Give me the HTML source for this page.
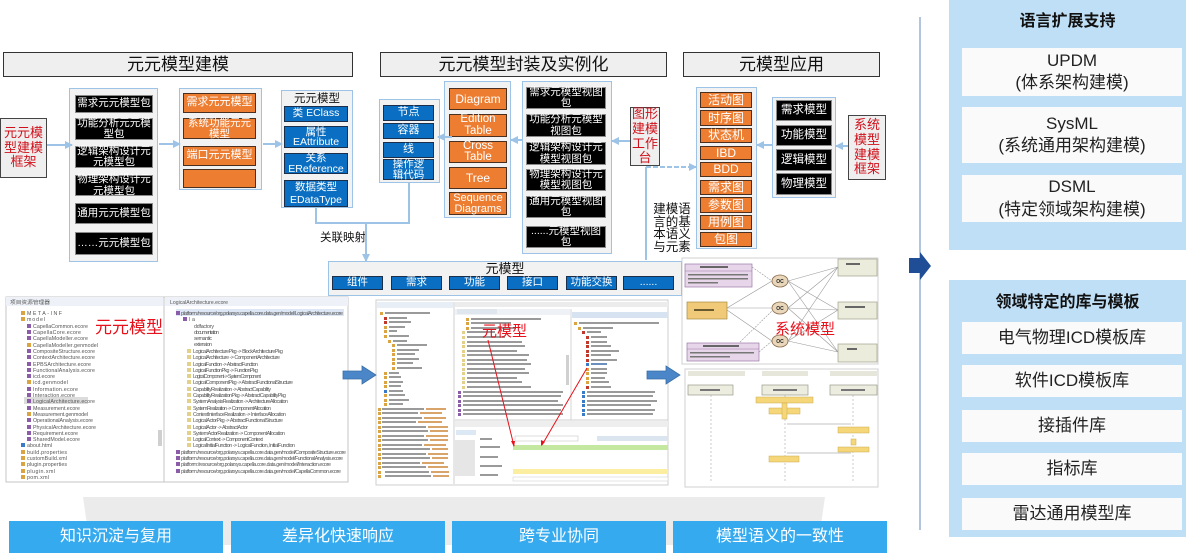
<!DOCTYPE html>
<html><head><meta charset="utf-8">
<style>
html,body{margin:0;padding:0;background:#fff;}
body{width:1189px;height:556px;position:relative;overflow:hidden;font-family:"Liberation Sans","Noto Sans CJK SC",sans-serif;}
.b{position:absolute;display:flex;align-items:center;justify-content:center;text-align:center;box-sizing:border-box;line-height:1.05;white-space:nowrap;}
.k{background:#000;color:#fff;border:1px solid #8a8a8a;font-size:10.5px;}
.o{background:#ed7d31;color:#fff;border:1.5px solid #4a3020;font-size:12px;}
.u{background:#0a6fc2;color:#fff;border:1.5px solid #1c2f4a;font-size:10.5px;}
.c{position:absolute;box-sizing:border-box;border:1.5px solid #9dc3e6;background:#f2f2f2;}
.h{background:#efefef;border:1.5px solid #333;font-size:17px;color:#111;}
.r{background:#efefef;border:1.5px solid #444;color:#d0111b;font-size:13px;line-height:1.15;}
.bt{background:#36aaee;color:#fff;font-size:16px;}
.p{position:absolute;background:#bfdff6;}
.w{background:#fafafa;color:#222;font-size:17px;line-height:1.3;}
.t{position:absolute;font-weight:bold;font-size:16px;color:#111;text-align:center;}
svg{position:absolute;left:0;top:0;}
</style></head><body>

<svg width="1189" height="556" viewBox="0 0 1189 556" style="z-index:0">
<polygon points="83,497 825,497 818,545 90,545" fill="#ebebeb"/>
<line x1="920" y1="17" x2="920" y2="530" stroke="#98b2d2" stroke-width="1.5"/>

<rect x="6" y="297" width="342" height="185" fill="#fff" stroke="#c6c6c6"/>
<rect x="6" y="297" width="157" height="9" fill="#eef2f8"/>
<rect x="165" y="297" width="183" height="9" fill="#eef2f8"/>
<line x1="164" y1="297" x2="164" y2="482" stroke="#c6c6c6"/>
<text x="10" y="304" font-size="5" fill="#555" textLength="40" lengthAdjust="spacingAndGlyphs">项目资源管理器</text>
<text x="170" y="304" font-size="5" fill="#555" textLength="58" lengthAdjust="spacingAndGlyphs">LogicalArchitecture.ecore</text>
<rect x="158" y="430" width="4" height="16" fill="#cfcfcf"/>
<rect x="24" y="397" width="64" height="7" fill="#dcdcdc"/>
<rect x="176" y="309" width="168" height="7" fill="#dce6f4"/>
<g font-size="5.3" fill="#555" font-family="Liberation Sans,sans-serif" lengthAdjust="spacingAndGlyphs">
<rect x="21" y="311" width="4" height="4" fill="#d9a441"/><text x="27" y="315" textLength="35">META-INF</text>
<rect x="21" y="317" width="4" height="4" fill="#d9a441"/><text x="27" y="321" textLength="18">model</text>
<g>
<rect x="27" y="324" width="4" height="4" fill="#8b5ca8"/><text x="33" y="328" textLength="55">CapellaCommon.ecore</text>
<rect x="27" y="330" width="4" height="4" fill="#8b5ca8"/><text x="33" y="334" textLength="48">CapellaCore.ecore</text>
<rect x="27" y="336" width="4" height="4" fill="#8b5ca8"/><text x="33" y="340" textLength="55">CapellaModeller.ecore</text>
<rect x="27" y="343" width="4" height="4" fill="#d9a441"/><text x="33" y="347" textLength="65">CapellaModeller.genmodel</text>
<rect x="27" y="349" width="4" height="4" fill="#8b5ca8"/><text x="33" y="353" textLength="62">CompositeStructure.ecore</text>
<rect x="27" y="355" width="4" height="4" fill="#8b5ca8"/><text x="33" y="359" textLength="62">ContextArchitecture.ecore</text>
<rect x="27" y="362" width="4" height="4" fill="#8b5ca8"/><text x="33" y="366" textLength="58">EPBSArchitecture.ecore</text>
<rect x="27" y="368" width="4" height="4" fill="#8b5ca8"/><text x="33" y="372" textLength="62">FunctionalAnalysis.ecore</text>
<rect x="27" y="374" width="4" height="4" fill="#8b5ca8"/><text x="33" y="378" textLength="22">icd.ecore</text>
<rect x="27" y="380" width="4" height="4" fill="#d9a441"/><text x="33" y="384" textLength="35">icd.genmodel</text>
<rect x="27" y="387" width="4" height="4" fill="#8b5ca8"/><text x="33" y="391" textLength="45">Information.ecore</text>
<rect x="27" y="393" width="4" height="4" fill="#8b5ca8"/><text x="33" y="397" textLength="42">Interaction.ecore</text>
<rect x="27" y="399" width="4" height="4" fill="#8b5ca8"/><text x="33" y="403" textLength="62">LogicalArchitecture.ecore</text>
<rect x="27" y="406" width="4" height="4" fill="#8b5ca8"/><text x="33" y="410" textLength="47">Measurement.ecore</text>
<rect x="27" y="412" width="4" height="4" fill="#d9a441"/><text x="33" y="416" textLength="55">Measurement.genmodel</text>
<rect x="27" y="418" width="4" height="4" fill="#8b5ca8"/><text x="33" y="422" textLength="60">OperationalAnalysis.ecore</text>
<rect x="27" y="425" width="4" height="4" fill="#8b5ca8"/><text x="33" y="429" textLength="63">PhysicalArchitecture.ecore</text>
<rect x="27" y="431" width="4" height="4" fill="#8b5ca8"/><text x="33" y="435" textLength="45">Requirement.ecore</text>
<rect x="27" y="437" width="4" height="4" fill="#8b5ca8"/><text x="33" y="441" textLength="47">SharedModel.ecore</text>
</g>
<rect x="21" y="443" width="4" height="4" fill="#3a7bc8"/><text x="27" y="447" textLength="25">about.html</text>
<rect x="21" y="450" width="4" height="4" fill="#d9a441"/><text x="27" y="454" textLength="40">build.properties</text>
<rect x="21" y="456" width="4" height="4" fill="#d9a441"/><text x="27" y="460" textLength="40">customBuild.xml</text>
<rect x="21" y="462" width="4" height="4" fill="#d9a441"/><text x="27" y="466" textLength="40">plugin.properties</text>
<rect x="21" y="469" width="4" height="4" fill="#d9a441"/><text x="27" y="473" textLength="28">plugin.xml</text>
<rect x="21" y="475" width="4" height="4" fill="#d9a441"/><text x="27" y="479" textLength="22">pom.xml</text>

<rect x="176" y="311" width="4" height="4" fill="#8b5ca8"/><text x="181" y="315" textLength="162">platform:/resource/org.polarsys.capella.core.data.gen/model/LogicalArchitecture.ecore</text>
<rect x="183" y="317" width="4" height="4" fill="#8b5ca8"/><text x="189" y="321" textLength="6">la</text>
<text x="194" y="328" textLength="20">ddfactory</text>
<text x="194" y="334" textLength="25">documentation</text>
<text x="194" y="340" textLength="18">semantic</text>
<text x="194" y="346" textLength="18">extension</text>
<g>
<rect x="187" y="349" width="4" height="4" fill="#e3d08a"/><text x="193" y="353" textLength="90">LogicalArchitecturePkg -&gt; BlockArchitecturePkg</text>
<rect x="187" y="355" width="4" height="4" fill="#e3d08a"/><text x="193" y="359" textLength="87">LogicalArchitecture -&gt; ComponentArchitecture</text>
<rect x="187" y="362" width="4" height="4" fill="#e3d08a"/><text x="193" y="366" textLength="65">LogicalFunction -&gt; AbstractFunction</text>
<rect x="187" y="368" width="4" height="4" fill="#e3d08a"/><text x="193" y="372" textLength="65">LogicalFunctionPkg -&gt; FunctionPkg</text>
<rect x="187" y="374" width="4" height="4" fill="#e3d08a"/><text x="193" y="378" textLength="68">LogicalComponent -&gt; SystemComponent</text>
<rect x="187" y="380" width="4" height="4" fill="#e3d08a"/><text x="193" y="384" textLength="100">LogicalComponentPkg -&gt; AbstractFunctionalStructure</text>
<rect x="187" y="387" width="4" height="4" fill="#e3d08a"/><text x="193" y="391" textLength="78">CapabilityRealization -&gt; AbstractCapability</text>
<rect x="187" y="393" width="4" height="4" fill="#e3d08a"/><text x="193" y="397" textLength="93">CapabilityRealizationPkg -&gt; AbstractCapabilityPkg</text>
<rect x="187" y="399" width="4" height="4" fill="#e3d08a"/><text x="193" y="403" textLength="95">SystemAnalysisRealization -&gt; ArchitectureAllocation</text>
<rect x="187" y="406" width="4" height="4" fill="#e3d08a"/><text x="193" y="410" textLength="78">SystemRealization -&gt; ComponentAllocation</text>
<rect x="187" y="412" width="4" height="4" fill="#e3d08a"/><text x="193" y="416" textLength="93">ContextInterfaceRealization -&gt; InterfaceAllocation</text>
<rect x="187" y="418" width="4" height="4" fill="#e3d08a"/><text x="193" y="422" textLength="90">LogicalActorPkg -&gt; AbstractFunctionalStructure</text>
<rect x="187" y="425" width="4" height="4" fill="#e3d08a"/><text x="193" y="429" textLength="55">LogicalActor -&gt; AbstractActor</text>
<rect x="187" y="431" width="4" height="4" fill="#e3d08a"/><text x="193" y="435" textLength="92">SystemActorRealization -&gt; ComponentAllocation</text>
<rect x="187" y="437" width="4" height="4" fill="#e3d08a"/><text x="193" y="441" textLength="70">LogicalContext -&gt; ComponentContext</text>
<rect x="187" y="443" width="4" height="4" fill="#e3d08a"/><text x="193" y="447" textLength="102">LogicalInitialFunction -&gt; LogicalFunction, InitialFunction</text>
</g>
<rect x="176" y="450" width="4" height="4" fill="#8b5ca8"/><text x="181" y="454" textLength="165">platform:/resource/org.polarsys.capella.core.data.gen/model/CompositeStructure.ecore</text>
<rect x="176" y="456" width="4" height="4" fill="#8b5ca8"/><text x="181" y="460" textLength="162">platform:/resource/org.polarsys.capella.core.data.gen/model/FunctionalAnalysis.ecore</text>
<rect x="176" y="462" width="4" height="4" fill="#8b5ca8"/><text x="181" y="466" textLength="150">platform:/resource/org.polarsys.capella.core.data.gen/model/Interaction.ecore</text>
<rect x="176" y="469" width="4" height="4" fill="#8b5ca8"/><text x="181" y="473" textLength="160">platform:/resource/org.polarsys.capella.core.data.gen/model/CapellaCommon.ecore</text>
</g>
<text x="95" y="333" font-size="17" fill="#e8101a" font-family="Liberation Sans,Noto Sans CJK SC,sans-serif">元元模型</text>

<rect x="376" y="300" width="292" height="185" fill="#fff" stroke="#cfcfcf"/>
<rect x="377" y="302" width="76" height="6" fill="#e8eef6"/>
<rect x="455" y="302" width="213" height="5" fill="#ececec"/>
<line x1="454" y1="302" x2="454" y2="484" stroke="#cfcfcf"/>
<rect x="455" y="309" width="115" height="6" fill="#eef1f5"/>
<rect x="572" y="312" width="96" height="6" fill="#d7e3f0"/>
<line x1="571" y1="309" x2="571" y2="420" stroke="#d5d5d5"/>
<rect x="566" y="355" width="3" height="30" fill="#d0d0d0"/>
<g fill="#9a9a9a">
<rect x="380" y="312" width="3" height="3" fill="#d9a441"/><rect x="385" y="312" width="45" height="2"/>
<rect x="384" y="317" width="3" height="3" fill="#c0392b"/><rect x="389" y="317" width="18" height="2"/>
<rect x="384" y="321" width="3" height="3" fill="#c0392b"/><rect x="389" y="321" width="22" height="2"/>
<rect x="384" y="326" width="3" height="3" fill="#d9a441"/><rect x="389" y="326" width="16" height="2"/>
<rect x="384" y="330" width="3" height="3" fill="#d9a441"/><rect x="389" y="330" width="8" height="2"/>
<rect x="384" y="335" width="3" height="3" fill="#d9a441"/><rect x="389" y="335" width="20" height="2"/>
<rect x="388" y="340" width="3" height="3" fill="#d9a441"/><rect x="393" y="340" width="14" height="2"/>
<rect x="392" y="344" width="3" height="3" fill="#d9a441"/><rect x="397" y="344" width="30" height="2"/>
<rect x="392" y="349" width="3" height="3" fill="#d9a441"/><rect x="397" y="349" width="22" height="2"/>
<rect x="392" y="353" width="3" height="3" fill="#d9a441"/><rect x="397" y="353" width="18" height="2"/>
<rect x="392" y="358" width="3" height="3" fill="#d9a441"/><rect x="397" y="358" width="22" height="2"/>
<rect x="392" y="362" width="3" height="3" fill="#d9a441"/><rect x="397" y="362" width="16" height="2"/>
<rect x="392" y="367" width="3" height="3" fill="#d9a441"/><rect x="397" y="367" width="25" height="2"/>
<rect x="384" y="372" width="3" height="3" fill="#d9a441"/><rect x="389" y="372" width="10" height="2"/>
<rect x="384" y="376" width="3" height="3" fill="#d9a441"/><rect x="389" y="376" width="12" height="2"/>
<rect x="384" y="381" width="3" height="3" fill="#d9a441"/><rect x="389" y="381" width="14" height="2"/>
<rect x="384" y="385" width="3" height="3" fill="#d9a441"/><rect x="389" y="385" width="12" height="2"/>
<rect x="384" y="390" width="3" height="3" fill="#3a7bc8"/><rect x="389" y="390" width="14" height="2"/>
<rect x="384" y="394" width="3" height="3" fill="#d9a441"/><rect x="389" y="394" width="16" height="2"/>
<rect x="384" y="399" width="3" height="3" fill="#d9a441"/><rect x="389" y="399" width="20" height="2"/>
<rect x="384" y="403" width="3" height="3" fill="#d9a441"/><rect x="389" y="403" width="14" height="2"/>
</g>
<g fill="#9a9a9a">
<rect x="378" y="408" width="3" height="3" fill="#d9a441"/><rect x="382" y="408" width="42" height="2"/><rect x="426" y="408" width="20" height="2" fill="#d9a46a"/>
<rect x="378" y="412" width="3" height="3" fill="#d9a441"/><rect x="382" y="412" width="36" height="2"/><rect x="420" y="412" width="22" height="2" fill="#d9a46a"/>
<rect x="378" y="417" width="3" height="3" fill="#d9a441"/><rect x="382" y="417" width="40" height="2"/><rect x="424" y="417" width="22" height="2" fill="#d9a46a"/>
<rect x="378" y="421" width="3" height="3" fill="#d9a441"/><rect x="382" y="421" width="34" height="2"/><rect x="418" y="421" width="24" height="2" fill="#d9a46a"/>
<rect x="378" y="426" width="3" height="3" fill="#d9a441"/><rect x="382" y="426" width="44" height="2"/><rect x="428" y="426" width="20" height="2" fill="#d9a46a"/>
<rect x="378" y="430" width="3" height="3" fill="#d9a441"/><rect x="382" y="430" width="46" height="2"/><rect x="430" y="430" width="18" height="2" fill="#d9a46a"/>
<rect x="378" y="435" width="3" height="3" fill="#d9a441"/><rect x="382" y="435" width="42" height="2"/><rect x="426" y="435" width="22" height="2" fill="#d9a46a"/>
<rect x="378" y="439" width="3" height="3" fill="#d9a441"/><rect x="382" y="439" width="46" height="2"/><rect x="430" y="439" width="18" height="2" fill="#d9a46a"/>
<rect x="378" y="444" width="3" height="3" fill="#d9a441"/><rect x="382" y="444" width="40" height="2"/><rect x="424" y="444" width="22" height="2" fill="#d9a46a"/>
<rect x="378" y="448" width="3" height="3" fill="#d9a441"/><rect x="382" y="448" width="48" height="2"/><rect x="432" y="448" width="16" height="2" fill="#d9a46a"/>
<rect x="378" y="453" width="3" height="3" fill="#d9a441"/><rect x="382" y="453" width="44" height="2"/><rect x="428" y="453" width="20" height="2" fill="#d9a46a"/>
<rect x="378" y="457" width="3" height="3" fill="#d9a441"/><rect x="382" y="457" width="48" height="2"/><rect x="432" y="457" width="16" height="2" fill="#d9a46a"/>
<rect x="378" y="462" width="3" height="3" fill="#d9a441"/><rect x="382" y="462" width="38" height="2"/><rect x="422" y="462" width="22" height="2" fill="#d9a46a"/>
<rect x="378" y="466" width="3" height="3" fill="#d9a441"/><rect x="382" y="466" width="44" height="2"/><rect x="428" y="466" width="20" height="2" fill="#d9a46a"/>
<rect x="378" y="471" width="3" height="3" fill="#d9a441"/><rect x="385" y="471" width="44" height="2"/><rect x="431" y="471" width="18" height="2" fill="#d9a46a"/>
<rect x="378" y="475" width="3" height="3" fill="#d9a441"/><rect x="385" y="475" width="46" height="2"/><rect x="433" y="475" width="16" height="2" fill="#d9a46a"/>
</g>
<g fill="#9a9a9a">
<rect x="457" y="309" width="40" height="5" fill="#dfe6ee"/>
<rect x="466" y="318" width="3" height="3" fill="#d9a441"/><rect x="471" y="318" width="70" height="2"/>
<rect x="466" y="322" width="3" height="3" fill="#d9a441"/><rect x="471" y="322" width="40" height="2"/>
<rect x="466" y="327" width="3" height="3" fill="#d9a441"/><rect x="471" y="327" width="45" height="2"/>
<rect x="462" y="331" width="3" height="3" fill="#e3d08a"/><rect x="467" y="331" width="28" height="2"/>
<rect x="462" y="336" width="3" height="3" fill="#e3d08a"/><rect x="467" y="336" width="38" height="2"/>
<rect x="462" y="341" width="3" height="3" fill="#e3d08a"/><rect x="467" y="341" width="55" height="2"/>
<rect x="462" y="345" width="3" height="3" fill="#e3d08a"/><rect x="467" y="345" width="58" height="2"/>
<rect x="462" y="350" width="3" height="3" fill="#e3d08a"/><rect x="467" y="350" width="50" height="2"/>
<rect x="462" y="354" width="3" height="3" fill="#e3d08a"/><rect x="467" y="354" width="62" height="2"/>
<rect x="462" y="359" width="3" height="3" fill="#e3d08a"/><rect x="467" y="359" width="60" height="2"/>
<rect x="462" y="363" width="3" height="3" fill="#e3d08a"/><rect x="467" y="363" width="64" height="2"/>
<rect x="462" y="368" width="3" height="3" fill="#e3d08a"/><rect x="467" y="368" width="58" height="2"/>
<rect x="462" y="372" width="3" height="3" fill="#e3d08a"/><rect x="467" y="372" width="62" height="2"/>
<rect x="462" y="377" width="3" height="3" fill="#e3d08a"/><rect x="467" y="377" width="50" height="2"/>
<rect x="462" y="381" width="3" height="3" fill="#e3d08a"/><rect x="467" y="381" width="55" height="2"/>
<rect x="462" y="386" width="3" height="3" fill="#e3d08a"/><rect x="467" y="386" width="64" height="2"/>
<rect x="458" y="391" width="3" height="3" fill="#8b5ca8"/><rect x="463" y="391" width="100" height="2"/>
<rect x="458" y="395" width="3" height="3" fill="#8b5ca8"/><rect x="463" y="395" width="98" height="2"/>
<rect x="458" y="400" width="3" height="3" fill="#8b5ca8"/><rect x="463" y="400" width="95" height="2"/>
<rect x="458" y="404" width="3" height="3" fill="#8b5ca8"/><rect x="463" y="404" width="100" height="2"/>
<rect x="458" y="409" width="3" height="3" fill="#8b5ca8"/><rect x="463" y="409" width="98" height="2"/>
<rect x="458" y="413" width="3" height="3" fill="#8b5ca8"/><rect x="463" y="413" width="100" height="2"/>
</g>
<g fill="#9a9a9a">
<rect x="574" y="322" width="3" height="3" fill="#d9a441"/><rect x="579" y="322" width="80" height="2"/>
<rect x="578" y="327" width="3" height="3" fill="#d9a441"/><rect x="583" y="327" width="30" height="2"/>
<rect x="582" y="331" width="3" height="3" fill="#c0392b"/><rect x="587" y="331" width="14" height="2"/>
<rect x="586" y="336" width="3" height="3" fill="#c0392b"/><rect x="591" y="336" width="16" height="2"/>
<rect x="586" y="341" width="3" height="3" fill="#c0392b"/><rect x="591" y="341" width="16" height="2"/>
<rect x="586" y="345" width="3" height="3" fill="#c0392b"/><rect x="591" y="345" width="20" height="2"/>
<rect x="586" y="350" width="3" height="3" fill="#c0392b"/><rect x="591" y="350" width="28" height="2"/>
<rect x="586" y="354" width="3" height="3" fill="#c0392b"/><rect x="591" y="354" width="20" height="2"/>
<rect x="586" y="359" width="3" height="3" fill="#c0392b"/><rect x="591" y="359" width="26" height="2"/>
<rect x="586" y="363" width="3" height="3" fill="#3a7bc8"/><rect x="591" y="363" width="16" height="2" fill="#6d8fc0"/>
<rect x="586" y="368" width="3" height="3" fill="#d9a441"/><rect x="591" y="368" width="16" height="2"/>
<rect x="586" y="372" width="3" height="3" fill="#d9a441"/><rect x="591" y="372" width="16" height="2"/>
<rect x="586" y="377" width="3" height="3" fill="#d9a441"/><rect x="591" y="377" width="14" height="2"/>
<rect x="586" y="381" width="3" height="3" fill="#d9a441"/><rect x="591" y="381" width="18" height="2"/>
<rect x="586" y="386" width="3" height="3" fill="#c0392b"/><rect x="591" y="386" width="20" height="2"/>
<rect x="582" y="391" width="3" height="3" fill="#3a7bc8"/><rect x="587" y="391" width="68" height="2"/>
<rect x="582" y="395" width="3" height="3" fill="#3a7bc8"/><rect x="587" y="395" width="66" height="2"/>
<rect x="582" y="400" width="3" height="3" fill="#3a7bc8"/><rect x="587" y="400" width="70" height="2"/>
<rect x="582" y="404" width="3" height="3" fill="#3a7bc8"/><rect x="587" y="404" width="64" height="2"/>
<rect x="582" y="409" width="3" height="3" fill="#3a7bc8"/><rect x="587" y="409" width="68" height="2"/>
<rect x="582" y="413" width="3" height="3" fill="#3a7bc8"/><rect x="587" y="413" width="66" height="2"/>
</g>
<line x1="455" y1="420" x2="668" y2="420" stroke="#cfcfcf"/>
<rect x="455" y="421" width="213" height="6" fill="#eeeeee"/>
<rect x="456" y="430" width="20" height="5" fill="#dde8f5"/>
<rect x="455" y="440" width="20" height="36" fill="#e6e6e6"/>
<g fill="#9a9a9a">
<rect x="480" y="438" width="12" height="2"/><rect x="480" y="446" width="20" height="2"/><rect x="480" y="456" width="18" height="2"/><rect x="480" y="465" width="22" height="2"/><rect x="480" y="474" width="18" height="2"/>
</g>
<rect x="515" y="436" width="63" height="5" fill="#fff" stroke="#bbb" stroke-width="0.5"/>
<rect x="597" y="436" width="71" height="5" fill="#dbe5f0"/>
<rect x="513" y="445" width="155" height="5" fill="#c5e8a0"/>
<rect x="513" y="469" width="155" height="5" fill="#fbeea0"/>
<rect x="513" y="477" width="155" height="4" fill="#fff" stroke="#ccc" stroke-width="0.5"/>
<line x1="488" y1="340" x2="514" y2="446" stroke="#e8101a" stroke-width="1"/>
<polygon points="514,447 511,441 515,441" fill="#e8101a"/>
<line x1="587" y1="368" x2="542" y2="445" stroke="#e8101a" stroke-width="1"/>
<polygon points="541,446 541,440 545,442" fill="#e8101a"/>
<text x="482" y="336" font-size="15" fill="#e8101a" font-family="Liberation Sans,Noto Sans CJK SC,sans-serif">元模型</text>

<rect x="682" y="258" width="196" height="106" fill="#fff" stroke="#d0d0d0"/>
<g stroke="#999" stroke-width="0.6">
<line x1="788" y1="281" x2="838" y2="267"/><line x1="788" y1="281" x2="838" y2="310"/><line x1="788" y1="281" x2="838" y2="352"/>
<line x1="788" y1="308" x2="838" y2="267"/><line x1="788" y1="308" x2="838" y2="310"/><line x1="788" y1="308" x2="838" y2="352"/>
<line x1="788" y1="341" x2="838" y2="267"/><line x1="788" y1="341" x2="838" y2="310"/><line x1="788" y1="341" x2="838" y2="352"/>
<line x1="727" y1="308" x2="772" y2="281"/><line x1="727" y1="308" x2="772" y2="308"/><line x1="727" y1="310" x2="772" y2="341"/>
<line x1="752" y1="267" x2="772" y2="281" stroke-dasharray="2 1"/><line x1="759" y1="352" x2="772" y2="341" stroke-dasharray="2 1"/>
<line x1="740" y1="342" x2="772" y2="311" stroke-dasharray="2 1"/>
</g>
<rect x="685" y="264" width="67" height="23" fill="#e7d5ea" stroke="#9a7aa5" stroke-width="0.7"/>
<line x1="685" y1="271" x2="752" y2="271" stroke="#9a7aa5" stroke-width="0.5"/>
<rect x="700" y="266" width="28" height="2" fill="#666"/>
<rect x="688" y="274" width="60" height="1.5" fill="#777"/><rect x="688" y="278" width="60" height="1.5" fill="#777"/><rect x="688" y="282" width="30" height="1.5" fill="#777"/>
<rect x="687" y="302" width="40" height="17" fill="#f0c979" stroke="#a88a40" stroke-width="0.7"/>
<rect x="694" y="309" width="20" height="2" fill="#6a5a30"/>
<rect x="687" y="343" width="72" height="18" fill="#e7d5ea" stroke="#9a7aa5" stroke-width="0.7"/>
<line x1="687" y1="349" x2="759" y2="349" stroke="#9a7aa5" stroke-width="0.5"/>
<rect x="703" y="345" width="36" height="2" fill="#666"/>
<rect x="690" y="352" width="64" height="1.5" fill="#777"/><rect x="690" y="356" width="40" height="1.5" fill="#777"/>
<g fill="#e9d7bb" stroke="#8a6a4a" stroke-width="0.8">
<ellipse cx="780" cy="281" rx="8" ry="6"/><ellipse cx="780" cy="308" rx="8" ry="6"/><ellipse cx="780" cy="341" rx="8" ry="6"/>
</g>
<g font-size="5" font-weight="bold" fill="#222" text-anchor="middle" font-family="Liberation Sans,sans-serif">
<text x="780" y="283">OC</text><text x="780" y="310">OC</text><text x="780" y="343">OC</text>
</g>
<g fill="#ececdc" stroke="#a0a08a" stroke-width="0.7">
<rect x="838" y="259" width="39" height="17"/><rect x="838" y="302" width="39" height="17"/><rect x="838" y="344" width="39" height="18"/>
</g>
<g fill="#666"><rect x="846" y="263" width="14" height="2"/><rect x="845" y="306" width="20" height="2"/><rect x="847" y="348" width="10" height="2"/></g>
<text x="775" y="334" font-size="15" fill="#e8101a" font-family="Liberation Sans,Noto Sans CJK SC,sans-serif">系统模型</text>

<rect x="685" y="369" width="193" height="118" fill="#fff" stroke="#d0d0d0"/>
<rect x="688" y="371" width="57" height="5" fill="#e6e6da"/>
<rect x="762" y="371" width="46" height="5" fill="#e6e6da"/>
<rect x="830" y="371" width="47" height="5" fill="#e6e6da"/>
<g fill="#ececdf" stroke="#9a9a8a" stroke-width="0.7">
<rect x="688" y="385" width="45" height="10"/><rect x="762" y="385" width="46" height="10"/><rect x="830" y="385" width="47" height="10"/>
</g>
<g fill="#777"><rect x="700" y="389" width="20" height="2"/><rect x="773" y="389" width="24" height="2"/><rect x="841" y="389" width="24" height="2"/></g>
<g stroke="#aaa" stroke-width="0.6" stroke-dasharray="2 2">
<line x1="711" y1="395" x2="711" y2="483"/><line x1="785" y1="395" x2="785" y2="483"/><line x1="853" y1="395" x2="853" y2="483"/>
</g>
<g fill="#f5d77a" stroke="#c9a94a" stroke-width="0.5">
<rect x="756" y="397" width="57" height="6"/><rect x="769" y="408" width="31" height="6"/>
<rect x="782" y="403" width="5" height="16"/>
<rect x="838" y="427" width="31" height="6"/><rect x="851" y="439" width="5" height="6"/>
<rect x="838" y="447" width="31" height="5"/><rect x="769" y="456" width="30" height="6"/>
</g>
<g stroke="#888" stroke-width="0.6"><line x1="787" y1="424" x2="851" y2="424"/><line x1="851" y1="453" x2="787" y2="453"/></g>

<polygon points="343,371 362,371 362,366 376,375 362,384 362,379 343,379" fill="#4a86c8" stroke="#3a6fa8" stroke-width="0.8"/>
<polygon points="647,371 666,371 666,366 680,375 666,384 666,379 647,379" fill="#4a86c8" stroke="#3a6fa8" stroke-width="0.8"/>
<polygon points="909,258 920,258 920,252 931,266 920,280 920,273 909,273" fill="#1f4e96"/>
</svg>

<div class="b h" style="left:3px;top:52px;width:350px;height:25px;">元元模型建模</div>
<div class="b h" style="left:380px;top:52px;width:287px;height:25px;">元元模型封装及实例化</div>
<div class="b h" style="left:683px;top:52px;width:197px;height:25px;">元模型应用</div>

<div class="b r" style="left:0;top:118px;width:47px;height:60px;">元元模<br>型建模<br>框架</div>

<div class="c" style="left:69px;top:88px;width:89px;height:174px;"></div>
<div class="b k" style="left:75px;top:95px;width:78px;height:18px;">需求元元模型包</div>
<div class="b k" style="left:75px;top:118px;width:78px;height:22px;">功能分析元元模<br>型包</div>
<div class="b k" style="left:75px;top:146px;width:78px;height:22px;">逻辑架构设计元<br>元模型包</div>
<div class="b k" style="left:75px;top:175px;width:78px;height:21px;">物理架构设计元<br>元模型包</div>
<div class="b k" style="left:75px;top:203px;width:78px;height:21px;">通用元元模型包</div>
<div class="b k" style="left:75px;top:232px;width:78px;height:23px;">……元元模型包</div>

<div class="c" style="left:179px;top:88px;width:83px;height:102px;"></div>
<div class="b o" style="left:183px;top:93px;width:73px;height:20px;font-size:11px;">需求元元模型</div>
<div class="b o" style="left:183px;top:118px;width:73px;height:21px;font-size:10.5px;line-height:1.0;">系统功能元元<br>模型</div>
<div class="b o" style="left:183px;top:146px;width:73px;height:20px;font-size:11px;">端口元元模型</div>
<div class="b o" style="left:183px;top:169px;width:73px;height:19px;"></div>

<div class="c" style="left:281px;top:90px;width:72px;height:118px;"></div>
<div class="b" style="left:281px;top:92px;width:72px;height:14px;font-size:11.5px;color:#111;">元元模型</div>
<div class="b u" style="left:284px;top:106px;width:64px;height:16px;">类 EClass</div>
<div class="b u" style="left:284px;top:126px;width:64px;height:22px;line-height:1.0;">属性<br>EAttribute</div>
<div class="b u" style="left:284px;top:153px;width:64px;height:21px;line-height:1.0;">关系<br>EReference</div>
<div class="b u" style="left:284px;top:180px;width:64px;height:27px;line-height:1.15;">数据类型<br>EDataType</div>

<div class="c" style="left:379px;top:99px;width:61px;height:84px;"></div>
<div class="b u" style="left:383px;top:105px;width:51px;height:16px;font-size:11px;">节点</div>
<div class="b u" style="left:383px;top:123px;width:51px;height:16px;font-size:11px;">容器</div>
<div class="b u" style="left:383px;top:142px;width:51px;height:16px;font-size:11px;">线</div>
<div class="b u" style="left:383px;top:159px;width:51px;height:21px;line-height:1.0;">操作逻<br>辑代码</div>

<div class="c" style="left:444px;top:81px;width:67px;height:137px;"></div>
<div class="b o" style="left:449px;top:88px;width:58px;height:22px;">Diagram</div>
<div class="b o" style="left:449px;top:114px;width:58px;height:23px;font-size:11.5px;line-height:1.0;">Edition<br>Table</div>
<div class="b o" style="left:449px;top:141px;width:58px;height:22px;font-size:11.5px;line-height:1.0;">Cross<br>Table</div>
<div class="b o" style="left:449px;top:167px;width:58px;height:22px;">Tree</div>
<div class="b o" style="left:449px;top:192px;width:58px;height:23px;font-size:11px;line-height:1.0;">Sequence<br>Diagrams</div>

<div class="c" style="left:522px;top:81px;width:90px;height:173px;"></div>
<div class="b k" style="left:526px;top:87px;width:80px;height:22px;">需求元模型视图<br>包</div>
<div class="b k" style="left:526px;top:114px;width:80px;height:23px;">功能分析元模型<br>视图包</div>
<div class="b k" style="left:526px;top:142px;width:80px;height:23px;">逻辑架构设计元<br>模型视图包</div>
<div class="b k" style="left:526px;top:169px;width:80px;height:22px;">物理架构设计元<br>模型视图包</div>
<div class="b k" style="left:526px;top:196px;width:80px;height:22px;">通用元模型视图<br>包</div>
<div class="b k" style="left:526px;top:226px;width:80px;height:22px;">......元模型视图<br>包</div>

<div class="b r" style="left:630px;top:107px;width:30px;height:59px;line-height:1.12;">图形<br>建模<br>工作<br>台</div>

<div class="b" style="left:652px;top:202px;width:40px;height:52px;font-size:12.5px;line-height:1.0;color:#111;">建模语<br>言的基<br>本语义<br>与元素</div>
<div class="b" style="left:320px;top:231px;width:46px;height:14px;font-size:11.5px;color:#111;">关联映射</div>

<div class="c" style="left:696px;top:87px;width:61px;height:162px;"></div>
<div class="b o" style="left:700px;top:92px;width:52px;height:16px;">活动图</div>
<div class="b o" style="left:700px;top:110px;width:52px;height:16px;">时序图</div>
<div class="b o" style="left:700px;top:128px;width:52px;height:15px;">状态机</div>
<div class="b o" style="left:700px;top:146px;width:52px;height:14px;">IBD</div>
<div class="b o" style="left:700px;top:162px;width:52px;height:15px;">BDD</div>
<div class="b o" style="left:700px;top:180px;width:52px;height:15px;">需求图</div>
<div class="b o" style="left:700px;top:197px;width:52px;height:16px;">参数图</div>
<div class="b o" style="left:700px;top:215px;width:52px;height:15px;">用例图</div>
<div class="b o" style="left:700px;top:232px;width:52px;height:15px;">包图</div>

<div class="c" style="left:772px;top:97px;width:64px;height:101px;"></div>
<div class="b k" style="left:776px;top:100px;width:56px;height:21px;font-size:11.5px;">需求模型</div>
<div class="b k" style="left:776px;top:125px;width:56px;height:21px;font-size:11.5px;">功能模型</div>
<div class="b k" style="left:776px;top:149px;width:56px;height:22px;font-size:11.5px;">逻辑模型</div>
<div class="b k" style="left:776px;top:173px;width:56px;height:22px;font-size:11.5px;">物理模型</div>

<div class="b r" style="left:848px;top:115px;width:38px;height:65px;line-height:1.15;">系统<br>模型<br>建模<br>框架</div>

<div class="c" style="left:328px;top:261px;width:354px;height:35px;"></div>
<div class="b" style="left:328px;top:262px;width:354px;height:14px;font-size:13px;color:#111;">元模型</div>
<div class="b u" style="left:332px;top:276px;width:51px;height:14px;">组件</div>
<div class="b u" style="left:391px;top:276px;width:51px;height:14px;">需求</div>
<div class="b u" style="left:449px;top:276px;width:51px;height:14px;">功能</div>
<div class="b u" style="left:507px;top:276px;width:51px;height:14px;">接口</div>
<div class="b u" style="left:566px;top:276px;width:51px;height:14px;">功能交换</div>
<div class="b u" style="left:623px;top:276px;width:51px;height:14px;">......</div>

<svg width="1189" height="556" viewBox="0 0 1189 556" style="z-index:5;pointer-events:none">
<defs><marker id="a" markerWidth="8" markerHeight="8" refX="7" refY="4" orient="auto" markerUnits="userSpaceOnUse"><path d="M0,0 L8,4 L0,8 z" fill="#9dc3e6"/></marker></defs>
<g stroke="#9dc3e6" stroke-width="2" fill="none">
<line x1="47" y1="145" x2="72" y2="145" marker-end="url(#a)"/>
<line x1="159" y1="144" x2="180" y2="144" marker-end="url(#a)"/>
<line x1="263" y1="144" x2="282" y2="144" marker-end="url(#a)"/>
<line x1="452" y1="137" x2="438" y2="137" marker-end="url(#a)"/>
<line x1="522" y1="140" x2="511" y2="140" marker-end="url(#a)"/>
<line x1="630" y1="141" x2="612" y2="141" marker-end="url(#a)"/>
<line x1="646" y1="260" x2="646" y2="167"/>
<line x1="646" y1="167" x2="696" y2="167" stroke-dasharray="5 2" marker-end="url(#a)"/>
<line x1="772" y1="145" x2="757" y2="145" marker-end="url(#a)"/>
<line x1="848" y1="146" x2="836" y2="146" marker-end="url(#a)"/>
<polyline points="316,208 316,223 409,223 409,183"/>
<line x1="366" y1="223" x2="366" y2="261" marker-end="url(#a)"/>
</g>
</svg>

<div class="b bt" style="left:9px;top:521px;width:214px;height:32px;">知识沉淀与复用</div>
<div class="b bt" style="left:231px;top:521px;width:214px;height:32px;">差异化快速响应</div>
<div class="b bt" style="left:452px;top:521px;width:214px;height:32px;">跨专业协同</div>
<div class="b bt" style="left:673px;top:521px;width:214px;height:32px;">模型语义的一致性</div>

<div class="p" style="left:949px;top:0;width:237px;height:250px;"></div>
<div class="t" style="left:949px;top:7px;width:237px;">语言扩展支持</div>
<div class="b w" style="left:962px;top:48px;width:220px;height:48px;">UPDM<br>(体系架构建模)</div>
<div class="b w" style="left:962px;top:107px;width:220px;height:56px;">SysML<br>(系统通用架构建模)</div>
<div class="b w" style="left:962px;top:175px;width:220px;height:47px;">DSML<br>(特定领域架构建模)</div>

<div class="p" style="left:949px;top:280px;width:237px;height:257px;"></div>
<div class="t" style="left:949px;top:288px;width:237px;">领域特定的库与模板</div>
<div class="b w" style="left:962px;top:322px;width:220px;height:32px;">电气物理ICD模板库</div>
<div class="b w" style="left:962px;top:365px;width:220px;height:32px;">软件ICD模板库</div>
<div class="b w" style="left:962px;top:410px;width:220px;height:32px;">接插件库</div>
<div class="b w" style="left:962px;top:453px;width:220px;height:32px;">指标库</div>
<div class="b w" style="left:962px;top:498px;width:220px;height:32px;">雷达通用模型库</div>

</body></html>
